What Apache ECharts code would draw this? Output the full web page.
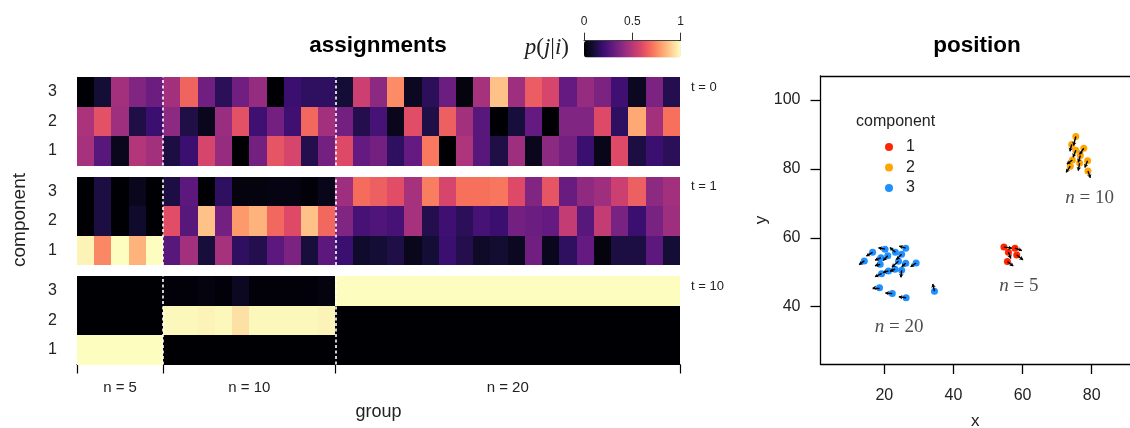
<!DOCTYPE html>
<html><head><meta charset="utf-8">
<script src="https://cdn.jsdelivr.net/npm/echarts@6/dist/echarts.min.js"></script>
<style>html,body{margin:0;padding:0;background:#fff}#c{width:1130px;height:428px}</style>
</head><body><div id="c"></div>
<script>
// ---------- data ----------
const observations = ['1','2','3','4','5','6','7','8','9','10','11','12','13','14','15','16','17','18','19','20','21','22','23','24','25','26','27','28','29','30','31','32','33','34','35'];
const components = ['1','2','3'];
const groupSizes = [5, 10, 20];
const groupLabels = ['n = 5', 'n = 10', 'n = 20'];
const timeLabels = ['t = 0', 't = 1', 't = 10'];
const colorbarTicks = [0, 0.5, 1];

// p(j|i) at t = 0
const t0_comp1 = [0.46,0.27,0.05,0.49,0.45, 0.12,0.20,0.58,0.42,0.00,0.34,0.63,0.58,0.14,0.34, 0.60,0.30,0.34,0.17,0.30,0.72,0.00,0.48,0.27,0.13,0.44,0.05,0.40,0.34,0.20,0.04,0.60,0.12,0.20,0.16];
const t0_comp2 = [0.47,0.62,0.44,0.13,0.20, 0.40,0.13,0.05,0.43,0.62,0.21,0.34,0.21,0.68,0.45, 0.34,0.14,0.23,0.05,0.61,0.13,0.66,0.45,0.27,0.00,0.11,0.30,0.00,0.37,0.37,0.60,0.17,0.82,0.45,0.70];
const t0_comp3 = [0.00,0.10,0.45,0.37,0.32, 0.45,0.67,0.33,0.16,0.33,0.42,0.00,0.20,0.17,0.17, 0.10,0.55,0.40,0.76,0.06,0.16,0.32,0.02,0.46,0.87,0.44,0.65,0.58,0.30,0.42,0.36,0.21,0.06,0.36,0.14];
// p(j|i) at t = 1
const t1_comp1 = [0.98,0.75,1.00,0.84,1.00, 0.27,0.45,0.11,0.46,0.17,0.14,0.28,0.36,0.11,0.28, 0.20,0.08,0.10,0.13,0.05,0.10,0.20,0.14,0.07,0.09,0.06,0.33,0.05,0.17,0.30,0.02,0.12,0.12,0.28,0.10];
const t1_comp2 = [0.00,0.12,0.00,0.08,0.00, 0.61,0.27,0.87,0.34,0.79,0.84,0.68,0.60,0.87,0.68, 0.37,0.23,0.25,0.23,0.46,0.14,0.21,0.16,0.23,0.20,0.34,0.32,0.30,0.53,0.27,0.53,0.35,0.20,0.35,0.44];
const t1_comp3 = [0.00,0.12,0.00,0.05,0.00, 0.12,0.28,0.00,0.17,0.02,0.02,0.03,0.03,0.01,0.04, 0.44,0.69,0.66,0.61,0.46,0.73,0.58,0.70,0.70,0.71,0.60,0.37,0.63,0.31,0.41,0.44,0.55,0.66,0.40,0.45];
// p(j|i) at t = 10
const t10_comp1 = [1,1,1,1,1, 0,0,0,0,0,0,0,0,0,0, 0,0,0,0,0,0,0,0,0,0,0,0,0,0,0,0,0,0,0,0];
const t10_comp2 = [0,0,0,0,0, 0.99,0.99,0.98,0.99,0.94,0.99,0.99,0.99,0.99,0.98, 0,0,0,0,0,0,0,0,0,0,0,0,0,0,0,0,0,0,0,0];
const t10_comp3 = [0,0,0,0,0, 0.01,0.01,0.02,0.01,0.06,0.01,0.01,0.01,0.01,0.02, 1,1,1,1,1,1,1,1,1,1,1,1,1,1,1,1,1,1,1,1];

// positions (x, y) and movement arrows (dx, dy) per component
const pos1 = [[54.6,57.3],[57.8,57.0],[55.9,55.8],[58.3,55.0],[55.6,53.1]];
const move1 = [[2.3,-0.3],[2.0,-0.7],[0.7,-1.8],[1.8,-1.4],[1.7,-1.3]];
const pos2 = [[75.4,89.4],[74.2,87.1],[77.7,86.0],[75.4,85.4],[76.7,83.9],[74.4,82.6],[78.8,82.4],[76.5,81.7],[73.8,80.8],[78.9,79.4]];
const move2 = [[-0.7,-2.6],[-0.5,-2.0],[-1.2,-1.8],[-0.8,-2.0],[-0.6,-2.0],[-1.6,-1.2],[-0.8,-2.0],[-0.4,-2.2],[-1.2,-1.8],[0.7,-2.0]];
const pos3 = [[14.2,53.3],[16.6,55.8],[20.2,56.7],[19.0,54.2],[21.0,54.8],[23.2,55.8],[25.0,55.2],[26.2,57.0],[24.1,53.2],[26.2,52.6],[29.2,52.7],[18.8,52.3],[19.2,49.6],[21.2,50.4],[23.1,50.9],[25.0,50.6],[18.6,45.5],[22.3,43.8],[26.3,42.6],[34.5,44.5]];
const move3 = [[-1.5,-1.1],[-1.8,-1.1],[-1.9,0.4],[-1.7,-0.7],[-1.3,-1.4],[-1.6,1.4],[-1.5,-1.5],[-1.9,0.6],[-1.9,-1.7],[-1.2,-1.0],[-1.6,-1.1],[-1.5,-0.4],[-1.9,-0.9],[-1.6,-0.5],[-1.5,-0.6],[-0.2,-2.1],[-2.0,0.0],[-2.0,0.2],[-2.1,0.3],[-0.5,2.1]];
const groupSizeLabels = [['n = 5', 58.9, 46.1], ['n = 10', 79.4, 71.5], ['n = 20', 24.3, 34.0]];
const xTicks = [20, 40, 60, 80];
const yTicks = [40, 60, 80, 100];

// ---------- build ----------
const magma = ['#000004','#140e36','#3b0f70','#641a80','#8c2981','#b73779','#de4968','#f7705c','#fe9f6d','#fecf92','#fcfdbf'];
const compColors = ['#ff2500', '#ffa500', '#1e90ff'];
const FONT = 'Liberation Sans, Arial, Helvetica, sans-serif';
const SERIF = 'Liberation Serif, DejaVu Serif, serif';

const panels = [
  [t0_comp1, t0_comp2, t0_comp3],
  [t1_comp1, t1_comp2, t1_comp3],
  [t10_comp1, t10_comp2, t10_comp3]
];
function cells(p) {
  const out = [];
  p.forEach((row, j) => row.forEach((v, i) => out.push([i, j, v])));
  return out;
}
const boundaries = [];
let acc = 0;
groupSizes.forEach(n => { acc += n; boundaries.push(acc); });
const innerBounds = boundaries.slice(0, -1);
const tickVals = [0].concat(boundaries);
const labelVals = [];
{ let s = 0; groupSizes.forEach(n => { labelVals.push(s + n / 2); s += n; }); }

const panelTops = [77, 176.5, 276];
const grids = panelTops.map(t => ({ left: 77, top: t, width: 603, height: 88.5, outerBoundsMode: 'none', containLabel: false }));
grids.push({ left: 584, top: 40.7, width: 96.7, height: 16.7, outerBoundsMode: 'none', containLabel: false });
grids.push({ left: 820.5, top: 76, width: 309.5, height: 288, show: false, outerBoundsMode: 'none', containLabel: false });

const xAxes = [];
const yAxes = [];
panelTops.forEach((t, i) => {
  xAxes.push({ type: 'category', gridIndex: i, data: observations, show: false });
});
panelTops.forEach((t, i) => {
  const shown = i === 2;
  xAxes.push({
    type: 'value', gridIndex: i, min: 0, max: observations.length, show: shown,
    position: 'bottom',
    splitLine: { show: false },
    axisLine: { show: shown, onZero: false, lineStyle: { color: '#000', width: 1.2 } },
    axisTick: { show: shown, length: 9, customValues: tickVals, lineStyle: { color: '#000', width: 1.2 } },
    axisLabel: { show: shown, customValues: labelVals, margin: 16, fontSize: 15, color: '#222', fontFamily: FONT,
      formatter: v => groupLabels[labelVals.indexOf(v)] || '' },
    name: shown ? 'group' : '', nameLocation: 'middle', nameGap: 39,
    nameTextStyle: { fontSize: 18, color: '#222', fontFamily: FONT }
  });
  yAxes.push({
    type: 'category', gridIndex: i, data: components,
    axisLine: { show: false }, axisTick: { show: false },
    axisLabel: { fontSize: 16, color: '#222', margin: 20, fontFamily: FONT }
  });
});
// colorbar axis
xAxes.push({
  type: 'value', gridIndex: 3, position: 'top', min: 0, max: 1, interval: 0.5,
  splitLine: { show: false },
  axisLine: { show: true, onZero: false, lineStyle: { color: '#333', width: 1 } },
  axisTick: { show: true, length: 8, customValues: colorbarTicks, lineStyle: { color: '#333', width: 1 } },
  axisLabel: { margin: 13, fontSize: 12, color: '#222', fontFamily: FONT, customValues: colorbarTicks,
    formatter: v => String(v) }
});
yAxes.push({ type: 'value', gridIndex: 3, show: false, min: 0, max: 1 });
// scatter axes
xAxes.push({
  type: 'value', gridIndex: 4, min: 1.53, max: 91.07, position: 'bottom',
  splitLine: { show: false },
  axisLine: { show: true, onZero: false, lineStyle: { color: '#000', width: 1.3 } },
  axisTick: { show: true, length: 10, customValues: xTicks, lineStyle: { color: '#000', width: 1.3 } },
  axisLabel: { customValues: xTicks, margin: 24, fontSize: 16, color: '#222', fontFamily: FONT },
  name: 'x', nameLocation: 'middle', nameGap: 49, nameTextStyle: { fontSize: 17, color: '#222', fontFamily: FONT }
});
yAxes.push({
  type: 'value', gridIndex: 4, min: 23.37, max: 106.97, position: 'left',
  splitLine: { show: false },
  axisLine: { show: true, onZero: false, lineStyle: { color: '#000', width: 1.3 } },
  axisTick: { show: true, length: 10, customValues: yTicks, lineStyle: { color: '#000', width: 1.3 } },
  axisLabel: { customValues: yTicks, margin: 20, fontSize: 16, color: '#222', fontFamily: FONT },
  name: 'y', nameLocation: 'middle', nameGap: 50, nameTextStyle: { fontSize: 17, color: '#222', fontFamily: FONT }
});
// top frame line of the scatter panel
xAxes.push({
  type: 'value', gridIndex: 4, min: 1.53, max: 91.07, position: 'top',
  splitLine: { show: false }, axisTick: { show: false }, axisLabel: { show: false },
  axisLine: { show: true, onZero: false, lineStyle: { color: '#000', width: 1.3 } }
});

const series = [];
panels.forEach((p, i) => {
  series.push({
    type: 'custom', xAxisIndex: i, yAxisIndex: i, data: cells(p), silent: true,
    encode: { x: 0, y: 1 },
    renderItem: (params, api) => {
      const c = api.coord([api.value(0), api.value(1)]);
      const s = api.size([1, 1]);
      const x0 = Math.round(c[0] - s[0] / 2), x1 = Math.round(c[0] + s[0] / 2);
      const y0 = Math.round(c[1] - s[1] / 2), y1 = Math.round(c[1] + s[1] / 2);
      return { type: 'rect', shape: { x: x0, y: y0, width: x1 - x0, height: y1 - y0 },
        style: { fill: api.visual('color') } };
    }
  });
});
panels.forEach((p, i) => {
  series.push({
    type: 'line', xAxisIndex: 3 + i, yAxisIndex: i, data: [], silent: true, z: 5,
    markLine: { silent: true, symbol: 'none', animation: false, label: { show: false },
      lineStyle: { color: '#fff', type: [3, 2.5], width: 1.6 },
      data: innerBounds.map(b => ({ xAxis: b })) }
  });
});
const posList = [pos1, pos2, pos3];
const moveList = [move1, move2, move3];
posList.forEach((pts, k) => {
  series.push({
    type: 'scatter', name: components[k], xAxisIndex: 7, yAxisIndex: 4, data: pts,
    symbolSize: 7, itemStyle: { color: compColors[k], opacity: 1 }, z: 3
  });
});
posList.forEach((pts, k) => {
  series.push({
    type: 'lines', coordinateSystem: 'cartesian2d', xAxisIndex: 7, yAxisIndex: 4, z: 4,
    symbol: ['none', 'arrow'], symbolSize: 3.5, silent: true,
    lineStyle: { color: '#000', width: 1.4, opacity: 1 },
    data: pts.map((p, m) => ({ coords: [p, [p[0] + moveList[k][m][0], p[1] + moveList[k][m][1]]] }))
  });
});
series.push({
  type: 'scatter', xAxisIndex: 7, yAxisIndex: 4, symbolSize: 0, silent: true,
  data: groupSizeLabels.map(d => ({ name: d[0], value: [d[1], d[2]] })),
  label: { show: true, position: 'inside',
    formatter: p => '{i|n}{r| = ' + p.name.split('= ')[1] + '}',
    rich: { i: { fontFamily: SERIF, fontStyle: 'italic', fontSize: 19, color: '#222' },
            r: { fontFamily: SERIF, fontSize: 19, color: '#222' } } }
});

const graphics = [
  { type: 'text', x: 378, y: 46, style: { text: 'assignments', font: 'bold 22.5px ' + FONT, fill: '#000', align: 'center', verticalAlign: 'middle' } },
  { type: 'text', x: 977, y: 46, style: { text: 'position', font: 'bold 22.5px ' + FONT, fill: '#000', align: 'center', verticalAlign: 'middle' } },
  { type: 'text', x: 569, y: 48, style: { text: '{i|p}{r|(}{i|j}{r||}{i|i}{r|)}', align: 'right', verticalAlign: 'middle',
      rich: { i: { fontFamily: SERIF, fontStyle: 'italic', fontSize: 23, fill: '#222' }, r: { fontFamily: SERIF, fontSize: 23, fill: '#222' } } } },
  { type: 'text', x: 20, y: 220, rotation: Math.PI / 2, style: { text: 'component', font: '19px ' + FONT, fill: '#222', align: 'center', verticalAlign: 'middle' } },
  { type: 'text', x: 856, y: 122, style: { text: 'component', font: '16px ' + FONT, fill: '#222', align: 'left', verticalAlign: 'middle' } }
];
timeLabels.forEach((t, i) => {
  graphics.push({ type: 'text', x: 691, y: panelTops[i] + 10, style: { text: t, font: '13px ' + FONT, fill: '#222', align: 'left', verticalAlign: 'middle' } });
});

const option = {
  animation: false,
  backgroundColor: '#fff',
  grid: grids,
  xAxis: xAxes,
  yAxis: yAxes,
  visualMap: {
    type: 'continuous', min: 0, max: 1, seriesIndex: [0, 1, 2], dimension: 2, calculable: false,
    orient: 'horizontal', left: 584, top: 40.7, itemWidth: 16.7, itemHeight: 96.7, padding: 0,
    text: null, showLabel: false, hoverLink: false,
    inRange: { color: magma }
  },
  legend: {
    data: components, orient: 'vertical', left: 885, top: 139, itemWidth: 8, itemHeight: 8, itemGap: 4.5,
    icon: 'circle', padding: 0, textStyle: { fontSize: 16, color: '#222', fontFamily: FONT, padding: [0, 0, 0, 8] },
    selectedMode: false
  },
  graphic: graphics,
  series: series
};
const chart = echarts.init(document.getElementById('c'));
chart.setOption(option);
</script>
</body></html>
